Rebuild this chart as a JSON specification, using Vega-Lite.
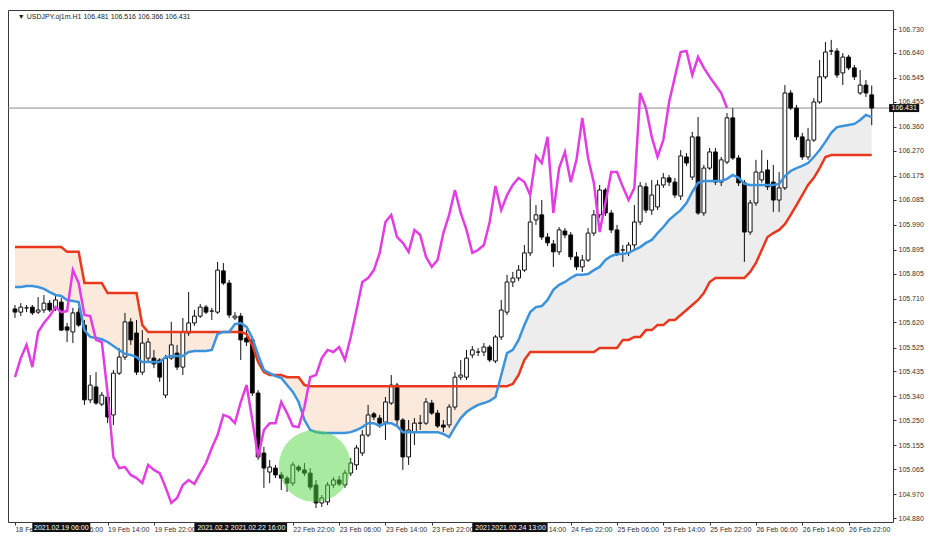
{
"$schema": "https://vega.github.io/schema/vega-lite/v6.json",
"width": 885, "height": 512,
"autosize": "none",
"padding": {"left": 8, "top": 10, "right": 41, "bottom": 29},
"background": "#ffffff",
"config": {"view": {"stroke": "#3a3a3a", "strokeWidth": 1, "fill": "#ffffff"}, "font": "Liberation Sans", "axis": {"labelOverlap": false, "labelFlush": false, "grid": false, "domain": false, "labelSeparation": 0, "labelBound": false}, "axisY": {"labelOverlap": false}, "axisRight": {"labelOverlap": false}},
"datasets": {
"d": [
{"i":0,"o":105.671,"h":105.686,"l":105.637,"c":105.659,"a":105.754,"b":105.905,"ch":105.413},
{"i":1,"o":105.659,"h":105.693,"l":105.644,"c":105.678,"a":105.754,"b":105.905,"ch":105.485},
{"i":2,"o":105.675,"h":105.686,"l":105.659,"c":105.675,"a":105.758,"b":105.905,"ch":105.535},
{"i":3,"o":105.678,"h":105.686,"l":105.648,"c":105.656,"a":105.758,"b":105.905,"ch":105.451},
{"i":4,"o":105.659,"h":105.716,"l":105.652,"c":105.667,"a":105.754,"b":105.905,"ch":105.584},
{"i":5,"o":105.667,"h":105.724,"l":105.656,"c":105.693,"a":105.747,"b":105.905,"ch":105.618},
{"i":6,"o":105.693,"h":105.705,"l":105.659,"c":105.667,"a":105.735,"b":105.905,"ch":105.644},
{"i":7,"o":105.671,"h":105.724,"l":105.663,"c":105.705,"a":105.724,"b":105.905,"ch":105.678},
{"i":8,"o":105.697,"h":105.712,"l":105.588,"c":105.591,"a":105.720,"b":105.905,"ch":105.659},
{"i":9,"o":105.603,"h":105.618,"l":105.546,"c":105.591,"a":105.705,"b":105.887,"ch":105.663},
{"i":10,"o":105.584,"h":105.675,"l":105.542,"c":105.656,"a":105.701,"b":105.887,"ch":105.818},
{"i":11,"o":105.659,"h":105.675,"l":105.603,"c":105.610,"a":105.697,"b":105.887,"ch":105.769},
{"i":12,"o":105.610,"h":105.629,"l":105.308,"c":105.327,"a":105.591,"b":105.769,"ch":105.648},
{"i":13,"o":105.327,"h":105.421,"l":105.315,"c":105.383,"a":105.565,"b":105.769,"ch":105.644},
{"i":14,"o":105.376,"h":105.432,"l":105.308,"c":105.315,"a":105.561,"b":105.769,"ch":105.554},
{"i":15,"o":105.311,"h":105.357,"l":105.304,"c":105.345,"a":105.557,"b":105.769,"ch":105.546},
{"i":16,"o":105.338,"h":105.345,"l":105.239,"c":105.262,"a":105.546,"b":105.731,"ch":105.353},
{"i":17,"o":105.270,"h":105.440,"l":105.232,"c":105.428,"a":105.531,"b":105.731,"ch":105.111},
{"i":18,"o":105.428,"h":105.523,"l":105.421,"c":105.489,"a":105.516,"b":105.731,"ch":105.069},
{"i":19,"o":105.489,"h":105.656,"l":105.478,"c":105.622,"a":105.501,"b":105.731,"ch":105.073},
{"i":20,"o":105.622,"h":105.637,"l":105.535,"c":105.554,"a":105.497,"b":105.731,"ch":105.043},
{"i":21,"o":105.580,"h":105.629,"l":105.421,"c":105.432,"a":105.489,"b":105.731,"ch":105.031},
{"i":22,"o":105.432,"h":105.591,"l":105.421,"c":105.542,"a":105.470,"b":105.610,"ch":105.012},
{"i":23,"o":105.485,"h":105.561,"l":105.470,"c":105.546,"a":105.470,"b":105.584,"ch":105.081},
{"i":24,"o":105.485,"h":105.516,"l":105.447,"c":105.463,"a":105.470,"b":105.584,"ch":105.062},
{"i":25,"o":105.478,"h":105.485,"l":105.395,"c":105.413,"a":105.470,"b":105.584,"ch":105.050},
{"i":26,"o":105.345,"h":105.497,"l":105.334,"c":105.485,"a":105.489,"b":105.584,"ch":104.997},
{"i":27,"o":105.485,"h":105.622,"l":105.478,"c":105.535,"a":105.493,"b":105.584,"ch":104.937},
{"i":28,"o":105.504,"h":105.535,"l":105.440,"c":105.451,"a":105.493,"b":105.584,"ch":104.956},
{"i":29,"o":105.451,"h":105.637,"l":105.421,"c":105.584,"a":105.493,"b":105.584,"ch":105.005},
{"i":30,"o":105.580,"h":105.735,"l":105.569,"c":105.618,"a":105.508,"b":105.584,"ch":105.024},
{"i":31,"o":105.618,"h":105.667,"l":105.607,"c":105.644,"a":105.512,"b":105.584,"ch":105.009},
{"i":32,"o":105.644,"h":105.690,"l":105.637,"c":105.678,"a":105.512,"b":105.584,"ch":105.050},
{"i":33,"o":105.678,"h":105.686,"l":105.652,"c":105.659,"a":105.512,"b":105.584,"ch":105.088},
{"i":34,"o":105.663,"h":105.675,"l":105.629,"c":105.663,"a":105.516,"b":105.584,"ch":105.145},
{"i":35,"o":105.659,"h":105.849,"l":105.652,"c":105.818,"a":105.576,"b":105.584,"ch":105.194},
{"i":36,"o":105.815,"h":105.845,"l":105.762,"c":105.769,"a":105.584,"b":105.584,"ch":105.270},
{"i":37,"o":105.769,"h":105.781,"l":105.637,"c":105.648,"a":105.584,"b":105.584,"ch":105.262},
{"i":38,"o":105.637,"h":105.659,"l":105.629,"c":105.644,"a":105.614,"b":105.584,"ch":105.239},
{"i":39,"o":105.644,"h":105.656,"l":105.478,"c":105.554,"a":105.618,"b":105.584,"ch":105.319},
{"i":40,"o":105.561,"h":105.591,"l":105.531,"c":105.546,"a":105.603,"b":105.576,"ch":105.383},
{"i":41,"o":105.554,"h":105.565,"l":105.342,"c":105.353,"a":105.561,"b":105.535,"ch":105.251},
{"i":42,"o":105.353,"h":105.364,"l":105.100,"c":105.111,"a":105.497,"b":105.470,"ch":105.111},
{"i":43,"o":105.126,"h":105.149,"l":104.994,"c":105.069,"a":105.440,"b":105.432,"ch":105.213},
{"i":44,"o":105.054,"h":105.100,"l":105.012,"c":105.073,"a":105.428,"b":105.421,"ch":105.239},
{"i":45,"o":105.069,"h":105.081,"l":105.031,"c":105.043,"a":105.417,"b":105.421,"ch":105.239},
{"i":46,"o":105.043,"h":105.054,"l":104.986,"c":105.031,"a":105.410,"b":105.421,"ch":105.319},
{"i":47,"o":105.031,"h":105.039,"l":104.979,"c":105.012,"a":105.383,"b":105.413,"ch":105.277},
{"i":48,"o":105.012,"h":105.092,"l":105.001,"c":105.081,"a":105.357,"b":105.413,"ch":105.228},
{"i":49,"o":105.073,"h":105.081,"l":105.054,"c":105.062,"a":105.319,"b":105.413,"ch":105.224},
{"i":50,"o":105.062,"h":105.088,"l":105.039,"c":105.050,"a":105.251,"b":105.383,"ch":105.300},
{"i":51,"o":105.050,"h":105.069,"l":104.986,"c":104.997,"a":105.213,"b":105.379,"ch":105.413},
{"i":52,"o":105.005,"h":105.024,"l":104.918,"c":104.937,"a":105.205,"b":105.379,"ch":105.421},
{"i":53,"o":104.937,"h":104.967,"l":104.922,"c":104.956,"a":105.202,"b":105.379,"ch":105.485},
{"i":54,"o":104.941,"h":105.016,"l":104.929,"c":105.005,"a":105.202,"b":105.379,"ch":105.516},
{"i":55,"o":105.005,"h":105.035,"l":104.994,"c":105.024,"a":105.202,"b":105.379,"ch":105.508},
{"i":56,"o":105.024,"h":105.039,"l":105.001,"c":105.009,"a":105.202,"b":105.379,"ch":105.527},
{"i":57,"o":105.005,"h":105.062,"l":104.994,"c":105.050,"a":105.202,"b":105.379,"ch":105.478},
{"i":58,"o":105.050,"h":105.107,"l":105.039,"c":105.088,"a":105.205,"b":105.379,"ch":105.565},
{"i":59,"o":105.081,"h":105.156,"l":105.062,"c":105.145,"a":105.213,"b":105.379,"ch":105.667},
{"i":60,"o":105.126,"h":105.213,"l":105.115,"c":105.194,"a":105.224,"b":105.379,"ch":105.773},
{"i":61,"o":105.194,"h":105.308,"l":105.186,"c":105.270,"a":105.239,"b":105.379,"ch":105.788},
{"i":62,"o":105.274,"h":105.281,"l":105.251,"c":105.262,"a":105.239,"b":105.379,"ch":105.818},
{"i":63,"o":105.258,"h":105.270,"l":105.221,"c":105.239,"a":105.228,"b":105.379,"ch":105.883},
{"i":64,"o":105.243,"h":105.338,"l":105.175,"c":105.319,"a":105.239,"b":105.379,"ch":106.000},
{"i":65,"o":105.315,"h":105.421,"l":105.308,"c":105.383,"a":105.239,"b":105.379,"ch":106.027},
{"i":66,"o":105.383,"h":105.391,"l":105.232,"c":105.251,"a":105.228,"b":105.379,"ch":105.943},
{"i":67,"o":105.251,"h":105.258,"l":105.062,"c":105.111,"a":105.205,"b":105.379,"ch":105.921},
{"i":68,"o":105.111,"h":105.251,"l":105.081,"c":105.213,"a":105.205,"b":105.379,"ch":105.887},
{"i":69,"o":105.205,"h":105.258,"l":105.156,"c":105.239,"a":105.205,"b":105.379,"ch":105.970},
{"i":70,"o":105.239,"h":105.270,"l":105.213,"c":105.239,"a":105.205,"b":105.379,"ch":105.951},
{"i":71,"o":105.239,"h":105.334,"l":105.232,"c":105.319,"a":105.205,"b":105.379,"ch":105.868},
{"i":72,"o":105.315,"h":105.327,"l":105.270,"c":105.277,"a":105.205,"b":105.379,"ch":105.830},
{"i":73,"o":105.277,"h":105.289,"l":105.221,"c":105.228,"a":105.205,"b":105.379,"ch":105.856},
{"i":74,"o":105.232,"h":105.251,"l":105.205,"c":105.224,"a":105.198,"b":105.379,"ch":105.958},
{"i":75,"o":105.232,"h":105.311,"l":105.221,"c":105.300,"a":105.186,"b":105.379,"ch":106.027},
{"i":76,"o":105.300,"h":105.432,"l":105.289,"c":105.413,"a":105.224,"b":105.379,"ch":106.121},
{"i":77,"o":105.413,"h":105.478,"l":105.402,"c":105.421,"a":105.258,"b":105.379,"ch":106.034},
{"i":78,"o":105.413,"h":105.516,"l":105.402,"c":105.485,"a":105.281,"b":105.379,"ch":105.970},
{"i":79,"o":105.497,"h":105.531,"l":105.485,"c":105.516,"a":105.296,"b":105.379,"ch":105.883},
{"i":80,"o":105.508,"h":105.523,"l":105.493,"c":105.508,"a":105.308,"b":105.379,"ch":105.894},
{"i":81,"o":105.508,"h":105.542,"l":105.493,"c":105.527,"a":105.315,"b":105.379,"ch":105.913},
{"i":82,"o":105.527,"h":105.535,"l":105.470,"c":105.478,"a":105.323,"b":105.379,"ch":106.000},
{"i":83,"o":105.474,"h":105.572,"l":105.466,"c":105.565,"a":105.338,"b":105.379,"ch":106.136},
{"i":84,"o":105.565,"h":105.705,"l":105.554,"c":105.667,"a":105.421,"b":105.379,"ch":106.045},
{"i":85,"o":105.659,"h":105.800,"l":105.648,"c":105.773,"a":105.504,"b":105.379,"ch":106.102},
{"i":86,"o":105.773,"h":105.811,"l":105.754,"c":105.788,"a":105.516,"b":105.387,"ch":106.140},
{"i":87,"o":105.788,"h":105.837,"l":105.777,"c":105.818,"a":105.554,"b":105.421,"ch":106.167},
{"i":88,"o":105.818,"h":105.913,"l":105.811,"c":105.883,"a":105.610,"b":105.478,"ch":106.151},
{"i":89,"o":105.883,"h":106.102,"l":105.871,"c":106.000,"a":105.659,"b":105.508,"ch":106.102},
{"i":90,"o":106.008,"h":106.064,"l":105.989,"c":106.027,"a":105.678,"b":105.508,"ch":106.250},
{"i":91,"o":106.027,"h":106.083,"l":105.932,"c":105.943,"a":105.682,"b":105.508,"ch":106.223},
{"i":92,"o":105.943,"h":105.958,"l":105.909,"c":105.921,"a":105.705,"b":105.508,"ch":106.322},
{"i":93,"o":105.917,"h":105.932,"l":105.830,"c":105.887,"a":105.743,"b":105.508,"ch":106.034},
{"i":94,"o":105.887,"h":105.981,"l":105.875,"c":105.970,"a":105.762,"b":105.508,"ch":106.204},
{"i":95,"o":105.966,"h":105.977,"l":105.939,"c":105.951,"a":105.773,"b":105.508,"ch":106.265},
{"i":96,"o":105.951,"h":105.962,"l":105.856,"c":105.868,"a":105.788,"b":105.508,"ch":106.151},
{"i":97,"o":105.868,"h":105.887,"l":105.818,"c":105.830,"a":105.800,"b":105.508,"ch":106.235},
{"i":98,"o":105.830,"h":105.875,"l":105.811,"c":105.856,"a":105.800,"b":105.508,"ch":106.394},
{"i":99,"o":105.856,"h":105.977,"l":105.849,"c":105.958,"a":105.803,"b":105.508,"ch":106.242},
{"i":100,"o":105.958,"h":106.045,"l":105.947,"c":106.027,"a":105.818,"b":105.508,"ch":106.148},
{"i":101,"o":106.027,"h":106.140,"l":106.015,"c":106.121,"a":105.830,"b":105.523,"ch":105.962},
{"i":102,"o":106.121,"h":106.129,"l":106.023,"c":106.034,"a":105.856,"b":105.523,"ch":106.072},
{"i":103,"o":106.034,"h":106.045,"l":105.958,"c":105.970,"a":105.871,"b":105.523,"ch":106.189},
{"i":104,"o":105.970,"h":105.989,"l":105.871,"c":105.883,"a":105.879,"b":105.523,"ch":106.189},
{"i":105,"o":105.894,"h":105.913,"l":105.849,"c":105.894,"a":105.879,"b":105.554,"ch":106.133},
{"i":106,"o":105.883,"h":105.924,"l":105.871,"c":105.913,"a":105.883,"b":105.554,"ch":106.083},
{"i":107,"o":105.913,"h":106.064,"l":105.894,"c":106.000,"a":105.894,"b":105.565,"ch":106.129},
{"i":108,"o":106.000,"h":106.151,"l":105.989,"c":106.136,"a":105.905,"b":105.565,"ch":106.488},
{"i":109,"o":106.133,"h":106.148,"l":106.034,"c":106.045,"a":105.921,"b":105.591,"ch":106.431},
{"i":110,"o":106.045,"h":106.159,"l":106.027,"c":106.102,"a":105.932,"b":105.591,"ch":106.322},
{"i":111,"o":106.057,"h":106.159,"l":106.045,"c":106.140,"a":105.958,"b":105.610,"ch":106.246},
{"i":112,"o":106.140,"h":106.185,"l":106.129,"c":106.167,"a":105.981,"b":105.610,"ch":106.310},
{"i":113,"o":106.167,"h":106.178,"l":106.136,"c":106.151,"a":106.008,"b":105.629,"ch":106.454},
{"i":114,"o":106.151,"h":106.167,"l":106.091,"c":106.102,"a":106.027,"b":105.629,"ch":106.549},
{"i":115,"o":106.098,"h":106.272,"l":106.083,"c":106.250,"a":106.045,"b":105.648,"ch":106.643},
{"i":116,"o":106.246,"h":106.261,"l":106.212,"c":106.223,"a":106.072,"b":105.667,"ch":106.647},
{"i":117,"o":106.170,"h":106.341,"l":106.159,"c":106.322,"a":106.114,"b":105.686,"ch":106.556},
{"i":118,"o":106.322,"h":106.397,"l":106.027,"c":106.034,"a":106.148,"b":105.705,"ch":106.624},
{"i":119,"o":106.034,"h":106.216,"l":106.023,"c":106.204,"a":106.155,"b":105.731,"ch":106.583},
{"i":120,"o":106.204,"h":106.280,"l":106.197,"c":106.265,"a":106.155,"b":105.773,"ch":106.549},
{"i":121,"o":106.265,"h":106.280,"l":106.140,"c":106.151,"a":106.155,"b":105.788,"ch":106.518},
{"i":122,"o":106.151,"h":106.246,"l":106.136,"c":106.235,"a":106.155,"b":105.788,"ch":106.488},
{"i":123,"o":106.227,"h":106.412,"l":106.219,"c":106.394,"a":106.163,"b":105.788,"ch":106.431},
{"i":124,"o":106.394,"h":106.431,"l":106.235,"c":106.242,"a":106.178,"b":105.788},
{"i":125,"o":106.242,"h":106.253,"l":106.136,"c":106.148,"a":106.167,"b":105.788},
{"i":126,"o":106.148,"h":106.159,"l":105.849,"c":105.962,"a":106.144,"b":105.788},
{"i":127,"o":105.962,"h":106.083,"l":105.951,"c":106.072,"a":106.140,"b":105.811},
{"i":128,"o":106.072,"h":106.235,"l":106.061,"c":106.189,"a":106.140,"b":105.845},
{"i":129,"o":106.159,"h":106.272,"l":106.148,"c":106.189,"a":106.140,"b":105.894},
{"i":130,"o":106.197,"h":106.235,"l":106.121,"c":106.133,"a":106.140,"b":105.943},
{"i":131,"o":106.151,"h":106.216,"l":106.038,"c":106.083,"a":106.140,"b":105.958},
{"i":132,"o":106.083,"h":106.189,"l":106.038,"c":106.129,"a":106.144,"b":105.970},
{"i":133,"o":106.129,"h":106.518,"l":106.121,"c":106.488,"a":106.174,"b":105.992},
{"i":134,"o":106.488,"h":106.499,"l":106.424,"c":106.431,"a":106.193,"b":106.027},
{"i":135,"o":106.431,"h":106.443,"l":106.310,"c":106.322,"a":106.204,"b":106.064},
{"i":136,"o":106.322,"h":106.337,"l":106.235,"c":106.246,"a":106.212,"b":106.102},
{"i":137,"o":106.246,"h":106.356,"l":106.235,"c":106.310,"a":106.223,"b":106.140},
{"i":138,"o":106.310,"h":106.469,"l":106.303,"c":106.454,"a":106.246,"b":106.167},
{"i":139,"o":106.454,"h":106.613,"l":106.447,"c":106.549,"a":106.272,"b":106.204},
{"i":140,"o":106.549,"h":106.681,"l":106.541,"c":106.643,"a":106.303,"b":106.246},
{"i":141,"o":106.647,"h":106.689,"l":106.632,"c":106.647,"a":106.337,"b":106.253},
{"i":142,"o":106.647,"h":106.658,"l":106.545,"c":106.556,"a":106.359,"b":106.253},
{"i":143,"o":106.564,"h":106.639,"l":106.518,"c":106.624,"a":106.363,"b":106.253},
{"i":144,"o":106.624,"h":106.632,"l":106.575,"c":106.583,"a":106.367,"b":106.253},
{"i":145,"o":106.583,"h":106.594,"l":106.537,"c":106.549,"a":106.371,"b":106.253},
{"i":146,"o":106.488,"h":106.575,"l":106.481,"c":106.518,"a":106.386,"b":106.253},
{"i":147,"o":106.518,"h":106.537,"l":106.473,"c":106.488,"a":106.405,"b":106.253},
{"i":148,"o":106.481,"h":106.516,"l":106.366,"c":106.431,"a":106.397,"b":106.253}
],
"vlback": [
{"i":36,"t":"2021.02.2"},
{"i":84,"t":"2021"}
],
"vl": [
{"i":8,"t":"2021.02.19 06:00"},
{"i":42,"t":"2021.02.22 16:00"},
{"i":87,"t":"2021.02.24 13:00"}
],
"last": [{"p":106.431}],
"circle": [{"i":51.8,"p":105.077}]
},
"layer": [
{"data": {"name": "d"}, "transform": [{"filter": "datum.i <= 83"}],
 "mark": {"type": "area", "fill": "#f4c4a4", "opacity": 0.38},
 "encoding": {"x": {"field": "i", "type": "quantitative", "title": null, "scale": {"domain": [-0.342, 150.81], "nice": false, "zero": false}},
  "y": {"field": "a", "type": "quantitative", "title": null, "scale": {"domain": [104.865, 106.802], "nice": false, "zero": false}},
  "y2": {"field": "b"}}},
{"data": {"name": "d"}, "transform": [{"filter": "datum.i >= 83"}],
 "mark": {"type": "area", "fill": "#d4d4d4", "opacity": 0.42},
 "encoding": {"x": {"field": "i", "type": "quantitative", "title": null, "scale": {"domain": [-0.342, 150.81], "nice": false, "zero": false}},
  "y": {"field": "a", "type": "quantitative", "title": null, "scale": {"domain": [104.865, 106.802], "nice": false, "zero": false}},
  "y2": {"field": "b"}}},
{"data": {"name": "last"},
 "mark": {"type": "rule", "color": "#8c8c8c", "strokeWidth": 1},
 "encoding": {"y": {"field": "p", "type": "quantitative", "title": null, "scale": {"domain": [104.865, 106.802], "nice": false, "zero": false}}}},
{"data": {"name": "d"},
 "mark": {"type": "rule", "color": "#111111", "strokeWidth": 1},
 "encoding": {"x": {"field": "i", "type": "quantitative", "title": null, "scale": {"domain": [-0.342, 150.81], "nice": false, "zero": false},
   "axis": {"title": null, "orient": "bottom", "domain": false, "grid": false, "values": [0,8,16,24,32,40,48,56,64,72,80,88,96,104,112,120,128,136,144],
    "labelExpr": "['18 Feb 22:00','19 Feb 06:00','19 Feb 14:00','19 Feb 22:00','','','22 Feb 22:00','23 Feb 06:00','23 Feb 14:00','23 Feb 22:00','','24 Feb 14:00','24 Feb 22:00','25 Feb 06:00','25 Feb 14:00','25 Feb 22:00','26 Feb 06:00','26 Feb 14:00','26 Feb 22:00'][round(datum.value/8)]",
    "labelAlign": "left", "labelBaseline": "top", "labelPadding": 0, "tickSize": 3, "tickColor": "#333333", "labelColor": "#333333", "labelFontSize": 7, "labelFont": "Liberation Sans", "labelOverlap": false, "labelFlush": false}},
  "y": {"field": "l", "type": "quantitative", "title": null, "scale": {"domain": [104.865, 106.802], "nice": false, "zero": false},
   "axis": {"title": null, "orient": "right", "domain": false, "grid": false, "values": [104.88,104.97,105.065,105.155,105.25,105.34,105.435,105.525,105.62,105.71,105.805,105.895,105.99,106.085,106.175,106.27,106.36,106.455,106.545,106.64,106.73],
    "tickCount": 21, "format": ".3f", "labelPadding": 2, "tickSize": 3, "tickColor": "#333333", "labelColor": "#333333", "labelFontSize": 7, "labelFont": "Liberation Sans", "labelOverlap": false, "labelSeparation": 0, "labelBound": false, "labelFlush": false}},
  "y2": {"field": "h"}}},
{"data": {"name": "d"},
 "mark": {"type": "bar", "width": 3.8, "stroke": "#111111", "strokeWidth": 1},
 "encoding": {"x": {"field": "i", "type": "quantitative", "title": null, "scale": {"domain": [-0.342, 150.81], "nice": false, "zero": false}},
  "y": {"field": "o", "type": "quantitative", "title": null, "scale": {"domain": [104.865, 106.802], "nice": false, "zero": false}},
  "y2": {"field": "c"},
  "fill": {"condition": {"test": "datum.c > datum.o", "value": "#ffffff"}, "value": "#000000"}}},
{"data": {"name": "d"},
 "mark": {"type": "line", "color": "#e8381e", "strokeWidth": 2.5},
 "encoding": {"x": {"field": "i", "type": "quantitative", "title": null, "scale": {"domain": [-0.342, 150.81], "nice": false, "zero": false}},
  "y": {"field": "b", "type": "quantitative", "title": null, "scale": {"domain": [104.865, 106.802], "nice": false, "zero": false}}}},
{"data": {"name": "d"},
 "mark": {"type": "line", "color": "#3b93dc", "strokeWidth": 2.5},
 "encoding": {"x": {"field": "i", "type": "quantitative", "title": null, "scale": {"domain": [-0.342, 150.81], "nice": false, "zero": false}},
  "y": {"field": "a", "type": "quantitative", "title": null, "scale": {"domain": [104.865, 106.802], "nice": false, "zero": false}}}},
{"data": {"name": "d"},
 "mark": {"type": "line", "color": "#e23de2", "strokeWidth": 2.5},
 "encoding": {"x": {"field": "i", "type": "quantitative", "title": null, "scale": {"domain": [-0.342, 150.81], "nice": false, "zero": false}},
  "y": {"field": "ch", "type": "quantitative", "title": null, "scale": {"domain": [104.865, 106.802], "nice": false, "zero": false}}}},
{"data": {"name": "circle"},
 "mark": {"type": "point", "shape": "circle", "filled": true, "size": 5200, "color": "#51d541", "opacity": 0.5, "strokeWidth": 0},
 "encoding": {"x": {"field": "i", "type": "quantitative", "title": null, "scale": {"domain": [-0.342, 150.81], "nice": false, "zero": false}},
  "y": {"field": "p", "type": "quantitative", "title": null, "scale": {"domain": [104.865, 106.802], "nice": false, "zero": false}}}},
{"data": {"name": "vlback"},
 "layer": [
  {"mark": {"type": "bar", "width": 58, "fill": "#111111"},
   "encoding": {"x": {"field": "i", "type": "quantitative", "title": null, "scale": {"domain": [-0.342, 150.81], "nice": false, "zero": false}},
    "y": {"datum": 104.861, "type": "quantitative", "title": null, "scale": {"domain": [104.865, 106.802], "nice": false, "zero": false}},
    "y2": {"datum": 104.827}}},
  {"mark": {"type": "text", "color": "#ffffff", "fontSize": 7, "font": "Liberation Sans", "align": "left", "dx": -26, "baseline": "middle"},
   "encoding": {"x": {"field": "i", "type": "quantitative", "title": null, "scale": {"domain": [-0.342, 150.81], "nice": false, "zero": false}},
    "y": {"datum": 104.844, "type": "quantitative", "title": null, "scale": {"domain": [104.865, 106.802], "nice": false, "zero": false}},
    "text": {"field": "t"}}}
 ]},
{"data": {"name": "vl"},
 "layer": [
  {"mark": {"type": "bar", "width": 58, "fill": "#111111"},
   "encoding": {"x": {"field": "i", "type": "quantitative", "title": null, "scale": {"domain": [-0.342, 150.81], "nice": false, "zero": false}},
    "y": {"datum": 104.861, "type": "quantitative", "title": null, "scale": {"domain": [104.865, 106.802], "nice": false, "zero": false}},
    "y2": {"datum": 104.827}}},
  {"mark": {"type": "text", "color": "#ffffff", "fontSize": 7, "font": "Liberation Sans", "align": "center", "baseline": "middle"},
   "encoding": {"x": {"field": "i", "type": "quantitative", "title": null, "scale": {"domain": [-0.342, 150.81], "nice": false, "zero": false}},
    "y": {"datum": 104.844, "type": "quantitative", "title": null, "scale": {"domain": [104.865, 106.802], "nice": false, "zero": false}},
    "text": {"field": "t"}}}
 ]},
{"data": {"name": "last"},
 "layer": [
  {"mark": {"type": "rule", "color": "#111111", "strokeWidth": 8, "strokeCap": "butt"},
   "encoding": {"x": {"datum": 151.0, "type": "quantitative", "title": null, "scale": {"domain": [-0.342, 150.81], "nice": false, "zero": false}},
    "x2": {"datum": 156.2},
    "y": {"field": "p", "type": "quantitative", "title": null, "scale": {"domain": [104.865, 106.802], "nice": false, "zero": false}}}},
  {"mark": {"type": "text", "color": "#ffffff", "fontSize": 7, "font": "Liberation Sans", "align": "center", "baseline": "middle"},
   "encoding": {"x": {"datum": 153.6, "type": "quantitative", "title": null, "scale": {"domain": [-0.342, 150.81], "nice": false, "zero": false}},
    "y": {"field": "p", "type": "quantitative", "title": null, "scale": {"domain": [104.865, 106.802], "nice": false, "zero": false}},
    "text": {"field": "p", "type": "quantitative", "format": ".3f"}}},
  {"mark": {"type": "text", "color": "#222222", "fontSize": 7, "font": "Liberation Sans", "align": "left", "baseline": "middle"},
   "encoding": {"x": {"datum": 0.5, "type": "quantitative", "title": null, "scale": {"domain": [-0.342, 150.81], "nice": false, "zero": false}},
    "y": {"datum": 106.777, "type": "quantitative", "title": null, "scale": {"domain": [104.865, 106.802], "nice": false, "zero": false}},
    "text": {"value": "▼ USDJPY.oj1m.H1  106.481 106.516 106.366 106.431"}}}
 ]}
]
}
